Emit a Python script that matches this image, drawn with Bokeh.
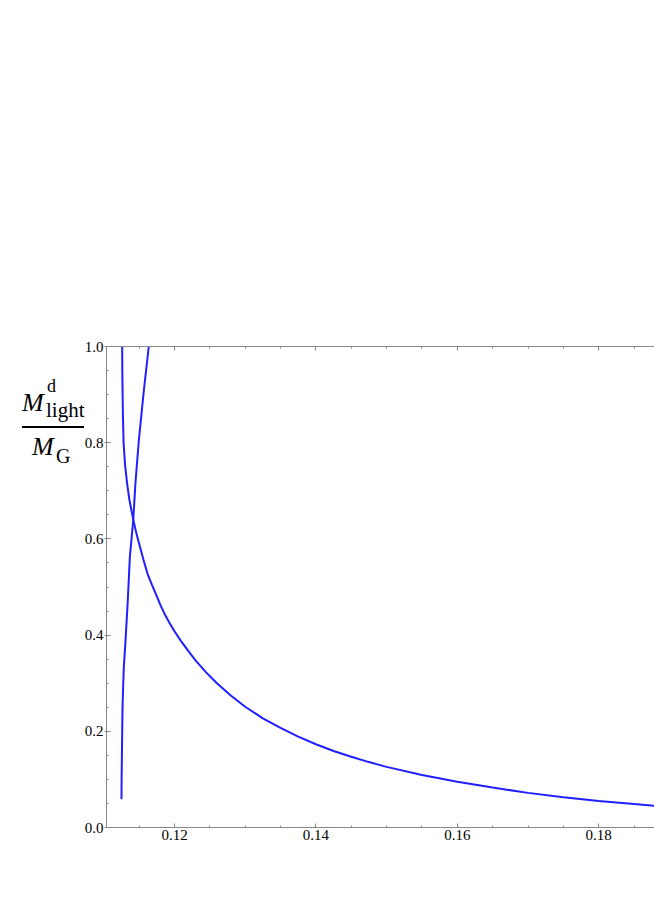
from bokeh.plotting import figure
from bokeh.models import (Range1d, FixedTicker, PrintfTickFormatter, LinearAxis, Div)
from bokeh.layouts import row
from bokeh.embed import file_html
from bokeh.resources import INLINE

# ---- data ----
curve_a_x = [0.1126, 0.11262, 0.11266, 0.1127, 0.1128, 0.1130, 0.1133, 0.1136,
             0.1139, 0.1142, 0.1146, 0.1150, 0.1156, 0.1162, 0.1168, 0.1174,
             0.1180, 0.1186, 0.1193, 0.1200, 0.1209, 0.1220, 0.1230, 0.1245,
             0.1260, 0.1280, 0.1300, 0.1325, 0.1350, 0.1375, 0.1400, 0.1425,
             0.1450, 0.1475, 0.1500, 0.1550, 0.1600, 0.1650, 0.1700, 0.1750,
             0.1800, 0.1850, 0.1885]
curve_a_y = [1.0, 0.95, 0.90, 0.86, 0.80, 0.755, 0.715, 0.683,
             0.66, 0.638, 0.612, 0.59, 0.557, 0.527, 0.505, 0.484,
             0.463, 0.444, 0.425, 0.408, 0.388, 0.366, 0.347, 0.322,
             0.300, 0.274, 0.251, 0.227, 0.207, 0.189, 0.173, 0.159,
             0.147, 0.136, 0.126, 0.109, 0.095, 0.083, 0.072, 0.063,
             0.055, 0.049, 0.044]

curve_b_x = [0.1125, 0.11252, 0.11256, 0.1126, 0.11265, 0.11275, 0.11283,
             0.11307, 0.11339, 0.11368, 0.11416, 0.11448, 0.11495, 0.11566, 0.11636]
curve_b_y = [0.059, 0.10, 0.15, 0.195, 0.25, 0.30, 0.333,
             0.388, 0.471, 0.561, 0.638, 0.717, 0.804, 0.908, 1.0]

x_major = [0.12, 0.14, 0.16, 0.18]
x_minor = [0.115, 0.125, 0.13, 0.135, 0.145, 0.15, 0.155, 0.165, 0.17, 0.175, 0.185]
y_major = [0.0, 0.2, 0.4, 0.6, 0.8, 1.0]
y_minor = [0.05, 0.1, 0.15, 0.25, 0.3, 0.35, 0.45, 0.5, 0.55, 0.65, 0.7, 0.75,
           0.85, 0.9, 0.95]

X_START, X_END = 0.110382, 0.18789
Y_START, Y_END = 0.0, 1.0

SERIF = "Liberation Serif"
AXIS_GRAY = "#888888"
LINE_BLUE = "#1f1fff"

LABEL_W = 80
p = figure(width=654 - LABEL_W, height=858, output_backend="svg", toolbar_location=None,
           x_range=Range1d(X_START, X_END), y_range=Range1d(Y_START, Y_END),
           x_axis_location=None, y_axis_location=None,
           min_border_left=106 - LABEL_W, min_border_right=0, min_border_top=346,
           min_border_bottom=31, margin=0)
p.outline_line_color = None
p.grid.visible = False
p.background_fill_color = "white"
p.border_fill_color = None

def style_axis(ax, major, minor, fmt, show_labels=True):
    ax.ticker = FixedTicker(ticks=major, minor_ticks=minor)
    ax.formatter = PrintfTickFormatter(format=fmt)
    ax.axis_line_color = AXIS_GRAY
    ax.axis_line_width = 1
    ax.major_tick_line_color = AXIS_GRAY
    ax.minor_tick_line_color = AXIS_GRAY
    ax.major_tick_in = 4
    ax.major_tick_out = 0
    ax.minor_tick_in = 2
    ax.minor_tick_out = 0
    ax.major_label_text_font = SERIF
    ax.major_label_text_font_size = "15px"
    ax.major_label_text_color = "black" if show_labels else None
    ax.major_label_standoff = 2

bottom = LinearAxis()
style_axis(bottom, x_major, x_minor, "%.2f")
p.add_layout(bottom, "below")

top = LinearAxis()
style_axis(top, x_major, x_minor, "%.2f", show_labels=False)
p.add_layout(top, "above")

left = LinearAxis()
style_axis(left, y_major, y_minor, "%.1f")
left.major_tick_out = 2
left.major_label_standoff = 1
p.add_layout(left, "left")

p.line(curve_a_x, curve_a_y, line_color=LINE_BLUE, line_width=2)
p.line(curve_b_x, curve_b_y, line_color=LINE_BLUE, line_width=2)

# y-axis label: stacked fraction  M^d_light / M_G  (HTML text, page pixels)
def span(text, left_px, top_px, size, italic=False):
    style = ("position:absolute; left:%dpx; top:%dpx; font-size:%dpx; line-height:1; "
             "font-family:'Liberation Serif', serif; color:black; white-space:nowrap; %s"
             % (left_px, top_px, size, "font-style:italic;" if italic else ""))
    return '<span style="%s">%s</span>' % (style, text)

html = ('<div style="position:relative; width:%dpx; height:858px; overflow:visible;">' % LABEL_W
        + span("M", 22, 390, 26, italic=True)
        + span("d", 47, 377, 18)
        + span("light", 46, 400, 21)
        + '<div style="position:absolute; left:22px; top:426px; width:62px; height:2px; background:black;"></div>'
        + span("M", 32, 434, 26, italic=True)
        + span("G", 56, 446, 20)
        + '</div>')

ylab = Div(text=html, width=LABEL_W, height=858, margin=0,
           styles={"overflow": "visible", "z-index": "2"})

layout = row(ylab, p, spacing=0, margin=0)
open("out.html", "w").write(file_html(layout, INLINE))
